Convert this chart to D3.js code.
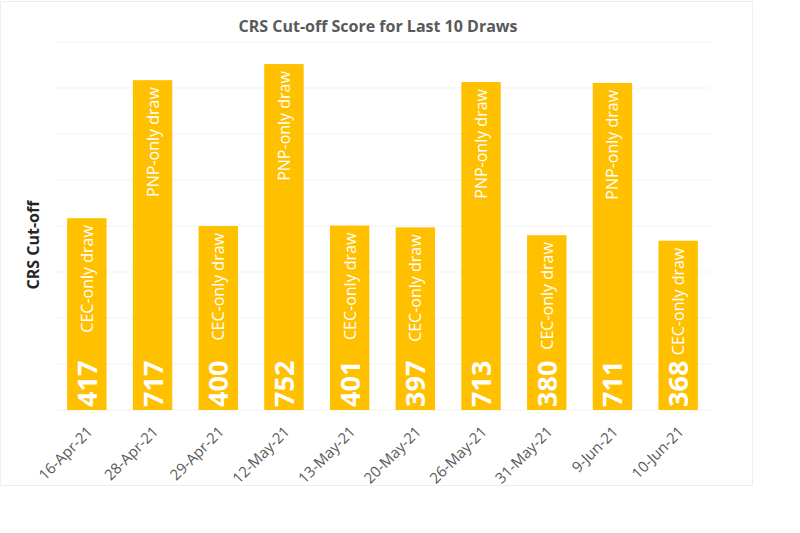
<!DOCTYPE html>
<html><head><meta charset="utf-8">
<script src="https://cdn.jsdelivr.net/npm/d3@7"></script>
<style>body{margin:0;background:#fff}svg{display:block}</style>
</head><body>
<svg id="c" width="800" height="533"></svg>
<script>
const dates = ["16-Apr-21","28-Apr-21","29-Apr-21","12-May-21","13-May-21","20-May-21","26-May-21","31-May-21","9-Jun-21","10-Jun-21"];
const scores = [417,717,400,752,401,397,713,380,711,368];
const drawTypes = ["CEC-only draw","PNP-only draw","CEC-only draw","PNP-only draw","CEC-only draw","CEC-only draw","PNP-only draw","CEC-only draw","PNP-only draw","CEC-only draw"];
const yTicks = [0,100,200,300,400,500,600,700,800];

const svg = d3.select("#c");
const font = "'Open Sans', 'Noto Sans', sans-serif";
svg.append("rect").attr("x",0.5).attr("y",1.5).attr("width",752).attr("height",484)
  .attr("fill","#fff").attr("stroke","#eeeeee");

const x = d3.scaleBand().domain(dates).range([54,711]).paddingInner(0.4).paddingOuter(0.2);
const y = d3.scaleLinear().domain([0,800]).range([410,42]);

svg.append("g").selectAll("line").data(yTicks).join("line")
  .attr("x1",56).attr("x2",710).attr("y1",d=>y(d)).attr("y2",d=>y(d))
  .attr("stroke","#f3f3f3").attr("stroke-width",1);

const idx = d3.range(dates.length);
svg.append("g").selectAll("rect").data(idx).join("rect")
  .attr("x",i=>x(dates[i])).attr("width",x.bandwidth())
  .attr("y",i=>y(scores[i])).attr("height",i=>y(0)-y(scores[i]))
  .attr("fill","#FFC000");

// value labels
svg.append("g").selectAll("text").data(idx).join("text")
  .attr("transform",i=>`translate(${x(dates[i])+x.bandwidth()/2+10},${y(0)-3}) rotate(-90)`)
  .attr("text-anchor","start").attr("fill","#fff")
  .style("font-family",font).style("font-weight","bold").style("font-size","27px")
  .text(i=>scores[i]);

// draw type labels
svg.append("g").selectAll("text").data(idx).join("text")
  .attr("transform",i=>`translate(${x(dates[i])+x.bandwidth()/2+6},${y(scores[i])+7}) rotate(-90)`)
  .attr("text-anchor","end").attr("fill","#fff")
  .style("font-family",font).style("font-size","16px")
  .text(i=>drawTypes[i]);

// x axis labels
const xAxis = d3.axisBottom(x).tickSize(0).tickPadding(0);
const gx = svg.append("g").attr("transform","translate(0,410)").call(xAxis);
gx.select(".domain").remove();
gx.selectAll("text")
  .attr("transform","translate(3,19) rotate(-45)")
  .attr("text-anchor","end").attr("dy","0.35em").attr("fill","#595959")
  .style("font-family",font).style("font-size","15px");

svg.append("text").attr("x",378).attr("y",32).attr("text-anchor","middle")
  .attr("fill","#595959").style("font-family",font).style("font-weight","bold").style("font-size","16px")
  .text("CRS Cut-off Score for Last 10 Draws");

svg.append("text").attr("transform","translate(39,245) rotate(-90)").attr("text-anchor","middle")
  .attr("fill","#262626").style("font-family",font).style("font-weight","bold").style("font-size","16px")
  .text("CRS Cut-off");
</script>
</body></html>
